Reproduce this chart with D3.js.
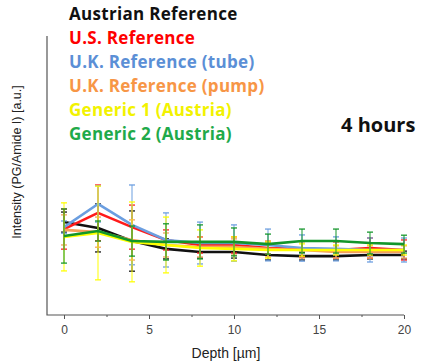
<!DOCTYPE html>
<html>
<head>
<meta charset="utf-8">
<script src="https://cdn.jsdelivr.net/npm/d3@7"></script>
<style>
  html, body { margin: 0; padding: 0; background: #fff; }
  svg { display: block; }
</style>
</head>
<body>
<svg id="chart" width="424" height="363"></svg>
<script>
// ---------- data ----------
const depths = [0, 2, 4, 6, 8, 10, 12, 14, 16, 18, 20];
const seriesNames = ["Austrian Reference", "U.S. Reference", "U.K. Reference (tube)", "U.K. Reference (pump)", "Generic 1 (Austria)", "Generic 2 (Austria)"];
const austrianRef = [0.333, 0.312, 0.265, 0.237, 0.226, 0.226, 0.215, 0.211, 0.211, 0.215, 0.215];
const usRef       = [0.308, 0.366, 0.315, 0.269, 0.251, 0.251, 0.240, 0.237, 0.233, 0.240, 0.233];
const ukTube      = [0.315, 0.398, 0.323, 0.269, 0.258, 0.258, 0.251, 0.240, 0.237, 0.233, 0.233];
const ukPump      = [0.305, 0.297, 0.269, 0.251, 0.244, 0.244, 0.237, 0.233, 0.226, 0.226, 0.226];
const generic1    = [0.280, 0.294, 0.262, 0.251, 0.240, 0.237, 0.233, 0.233, 0.233, 0.233, 0.233];
const generic2    = [0.283, 0.301, 0.265, 0.262, 0.262, 0.262, 0.254, 0.265, 0.265, 0.258, 0.254];
const austrianErr = [0.036, 0.086, 0.108, 0.036, 0.022, 0.022, 0.018, 0.014, 0.014, 0.014, 0.014];
const usErr       = [0.072, 0.100, 0.079, 0.036, 0.029, 0.029, 0.022, 0.029, 0.029, 0.036, 0.036];
const ukTubeErr   = [0.022, 0.065, 0.143, 0.097, 0.075, 0.065, 0.057, 0.047, 0.043, 0.043, 0.043];
const ukPumpErr   = [0.054, 0.054, 0.072, 0.043, 0.036, 0.029, 0.029, 0.029, 0.022, 0.022, 0.022];
const generic1Err = [0.122, 0.168, 0.143, 0.100, 0.065, 0.043, 0.029, 0.022, 0.018, 0.018, 0.018];
const generic2Err = [0.097, 0.036, 0.054, 0.065, 0.061, 0.050, 0.036, 0.043, 0.043, 0.039, 0.032];
const xTicks = [0, 5, 10, 15, 20];
const xMinorTicks = [2.5, 7.5, 12.5, 17.5];
const timeLabel = "4 hours";

// ---------- styling ----------
const lineColors = ["#111111", "#ff1a1a", "#6b9ee0", "#f5a05a", "#ffff00", "#13962a"];
const legendColors = ["#111111", "#ff0000", "#5b8fd6", "#f79646", "#f2f200", "#1faa4a"];

const values = [austrianRef, usRef, ukTube, ukPump, generic1, generic2];
const errors = [austrianErr, usErr, ukTubeErr, ukPumpErr, generic1Err, generic2Err];

const svg = d3.select("#chart");
const x = d3.scaleLinear().domain([-1, 20]).range([47, 404]);
const y = d3.scaleLinear().domain([0, 1]).range([315, 36]);

// axes
const axisColor = "#555";
const xAxis = d3.axisBottom(x).tickValues(xTicks).tickSize(4).tickPadding(6).tickFormat(d3.format("d"));
const gx = svg.append("g").attr("transform", "translate(0,315)").call(xAxis);
gx.select(".domain").remove();
gx.selectAll(".tick line").attr("stroke", axisColor);
gx.selectAll(".tick text").attr("fill", "#444").attr("font-family", "Liberation Sans, Arial, sans-serif").attr("font-size", 12);
const gxm = svg.append("g").attr("transform", "translate(0,315)")
  .call(d3.axisBottom(x).tickValues(xMinorTicks).tickSize(2).tickFormat(""));
gxm.select(".domain").remove();
gxm.selectAll(".tick line").attr("stroke", axisColor);

svg.append("path")
  .attr("d", `M${x(-1)},${y(1)}V${y(0)}H${x(20)}`)
  .attr("fill", "none").attr("stroke", axisColor).attr("stroke-width", 1.2);

// series
const line = d3.line().x((d, i) => x(depths[i])).y(d => y(d));
values.forEach((vals, s) => {
  const g = svg.append("g");
  const c = lineColors[s];
  vals.forEach((v, i) => {
    const e = errors[s][i];
    const cx = x(depths[i]);
    g.append("line").attr("x1", cx).attr("x2", cx).attr("y1", y(v - e)).attr("y2", y(v + e))
      .attr("stroke", c).attr("stroke-width", 1.1).attr("opacity", 0.9);
    [v - e, v + e].forEach(t => {
      g.append("line").attr("x1", cx - 3).attr("x2", cx + 3).attr("y1", y(t)).attr("y2", y(t))
        .attr("stroke", c).attr("stroke-width", 1.4).attr("opacity", 0.9);
    });
  });
  g.append("path").datum(vals).attr("d", line).attr("fill", "none")
    .attr("stroke", c).attr("stroke-width", 2.6).attr("stroke-linejoin", "round");
});

// legend
const legend = svg.append("g");
seriesNames.forEach((n, i) => {
  legend.append("text").attr("x", 69).attr("y", 19.5 + i * 24.1)
    .attr("fill", legendColors[i])
    .attr("font-family", "Open Sans, sans-serif").attr("font-weight", 700).attr("font-size", 17)
    .attr("letter-spacing", 0.3)
    .text(n);
});

svg.append("text").attr("x", 341).attr("y", 132)
  .attr("font-family", "Open Sans, sans-serif").attr("font-weight", 700).attr("font-size", 20)
  .attr("fill", "#111").text(timeLabel);

// axis titles
svg.append("text").attr("x", 226).attr("y", 358).attr("text-anchor", "middle")
  .attr("font-family", "Liberation Sans, Arial, sans-serif").attr("font-size", 14).attr("fill", "#222")
  .text("Depth [µm]");
svg.append("text").attr("transform", "translate(21,162) rotate(-90)").attr("text-anchor", "middle")
  .attr("font-family", "Liberation Sans, Arial, sans-serif").attr("font-size", 12.5).attr("fill", "#222")
  .text("Intensity (PG/Amide I) [a.u.]");
</script>
</body>
</html>
